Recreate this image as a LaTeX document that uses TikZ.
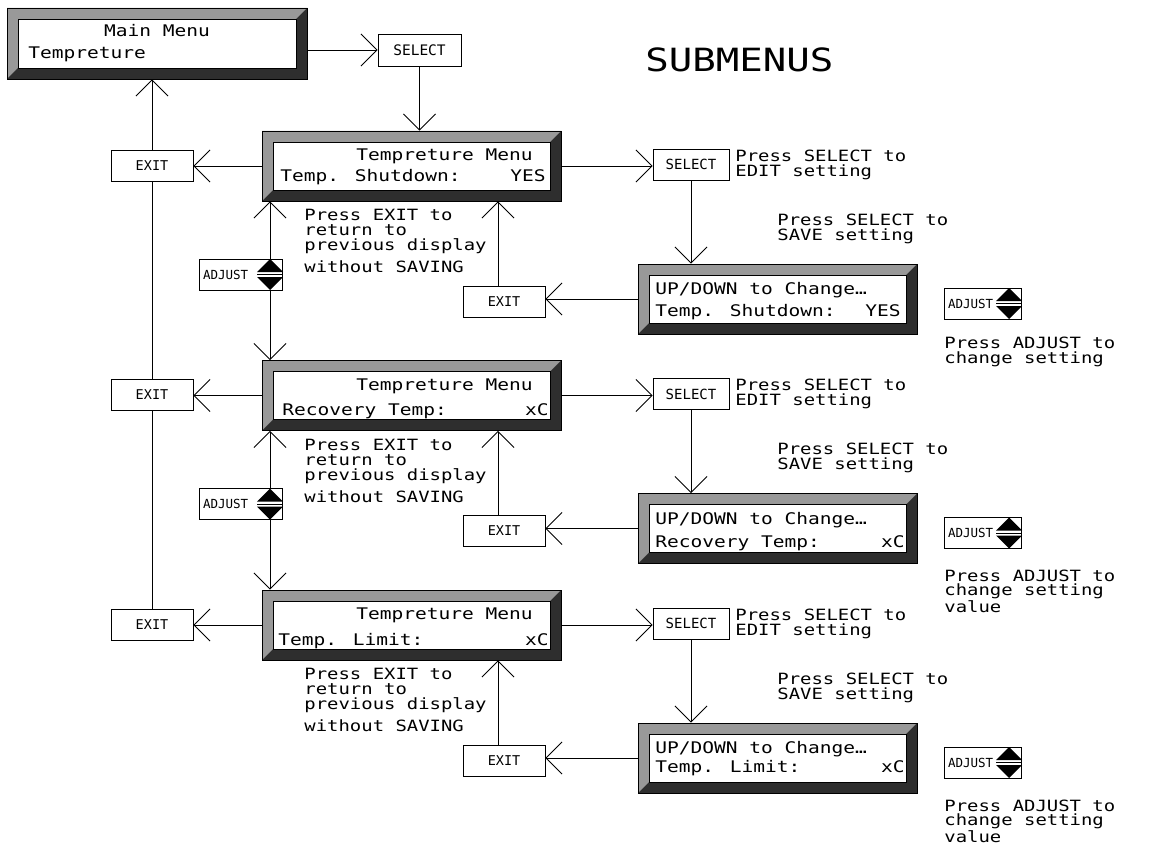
\documentclass[tikz,border=0pt]{standalone}
\usepackage{fontspec}
\newfontfamily\cad[FakeStretch=1.22]{DejaVu Sans Mono}
\newfontfamily\btnf{DejaVu Sans Mono}
\usetikzlibrary{arrows.meta}
\definecolor{bevlight}{gray}{0.6}
\definecolor{bevdark}{gray}{0.18}
\tikzset{
  arr/.style={-{Straight Barb[length=16pt,width=32pt]}},
  lcd/.style={draw, inner sep=0pt, path picture={
    \fill[bevlight] (path picture bounding box.north west) -- (path picture bounding box.north east)
      -- ([shift={(-11pt,-11pt)}]path picture bounding box.north east)
      -- ([shift={(11pt,-11pt)}]path picture bounding box.north west)
      -- ([shift={(11pt,11pt)}]path picture bounding box.south west)
      -- (path picture bounding box.south west) -- cycle;
    \fill[bevdark] (path picture bounding box.north east) -- (path picture bounding box.south east)
      -- (path picture bounding box.south west)
      -- ([shift={(11pt,11pt)}]path picture bounding box.south west)
      -- ([shift={(-11pt,11pt)}]path picture bounding box.south east)
      -- ([shift={(-11pt,-11pt)}]path picture bounding box.north east) -- cycle;
    \draw[fill=white] ([shift={(11pt,-11pt)}]path picture bounding box.north west)
      rectangle ([shift={(-11pt,11pt)}]path picture bounding box.south east);
  }},
  btn/.style={draw, inner sep=0pt, font=\btnf\fontsize{13.5}{14}\selectfont},
  adjbox/.style={btn, minimum height=31pt, inner xsep=4pt, text width=#1, align=left,
    font=\btnf\fontsize{12.5}{14}\selectfont},
  adjsym/.style={minimum width=26pt, minimum height=31pt, inner sep=0pt, path picture={
    \fill (path picture bounding box.north) -- ([yshift=-13pt]path picture bounding box.north west)
      -- ([yshift=-13pt]path picture bounding box.north east) -- cycle;
    \fill (path picture bounding box.south) -- ([yshift=13pt]path picture bounding box.south west)
      -- ([yshift=13pt]path picture bounding box.south east) -- cycle;
    \draw (path picture bounding box.west) -- (path picture bounding box.east);
  }},
  boxtxt/.style={inner sep=0pt, font=\cad\fontsize{16}{18}\selectfont},
  notetxt/.style={inner sep=0pt, align=left, anchor=base west, font=\cad\fontsize{15.5}{14.8}\selectfont},
  titletxt/.style={inner sep=0pt, anchor=base west, font=\cad\fontsize{32}{34}\selectfont},
}
\begin{document}
\begin{tikzpicture}[x=1pt, y=-1pt, line width=0.9pt]
\path[use as bounding box, fill=white] (0,0) rectangle (1167,848);

% main menu
\node[lcd, minimum width=300pt, minimum height=71pt] (main) at (157,43.5) {};
\node[boxtxt, anchor=base] (mainA) at (157,37) {Main Menu};
\node[boxtxt, anchor=base west] (mainB) at (28,59) {Tempreture};
\node[btn, minimum width=83pt, minimum height=32pt, font=\btnf\fontsize{14.5}{15}\selectfont] (sel0) at (419.5,50) {SELECT};
\node[titletxt] (subm) at (645,72) {SUBMENUS};

\draw[arr] (main.east |- sel0.west) -- (sel0.west);

\foreach \r in {1,2,3}{
  \pgfmathsetmacro\dy{229.5*(\r-1)}
  \node[lcd, minimum width=299pt, minimum height=70pt] (t\r) at (411.5,166+\dy) {};
  \node[boxtxt, anchor=base east] (ta\r) at (533,160.5+\dy) {Tempreture Menu};
  \node[btn, minimum width=82pt, minimum height=31pt] (x\r) at (152,165.5+\dy) {EXIT};
  \node[btn, minimum width=82pt, minimum height=31pt] (xl\r) at (504,301.5+\dy) {EXIT};
  \node[btn, minimum width=76pt, minimum height=31pt, font=\btnf\fontsize{14}{15}\selectfont] (s\r) at (691,164.5+\dy) {SELECT};
  \node[lcd, minimum width=279pt, minimum height=70pt] (e\r) at (777.5,299+\dy) {};
  \node[boxtxt, anchor=base west] (ea\r) at (655,294.5+\dy) {UP/DOWN to Change…};
  \node[adjbox=69pt] (ar\r) at (982.5,303.5+\dy) {ADJUST};
  \node[adjsym, anchor=east] (ars\r) at ([xshift=1pt]ar\r.east) {};
  \node[notetxt] (ne\r) at (304,272.5+\dy) {Press EXIT to\\return to\\previous display\\[6pt]without SAVING};
  \node[notetxt] (ns\r) at (735,176+\dy) {Press SELECT to\\EDIT setting};
  \node[notetxt] (nv\r) at (777,240+\dy) {Press SELECT to\\SAVE setting};
  \draw[arr] (t\r.west) -- (t\r.west -| x\r.east);
  \draw[arr] (t\r.east) -- (t\r.east -| s\r.west);
  \draw[arr] (s\r.south) -- (s\r.south |- e\r.north);
  \draw[arr] (e\r.west) -- (e\r.west -| xl\r.east);
  \draw[arr] ([xshift=-6pt]xl\r.north) -- ([xshift=-6pt]xl\r.north |- t\r.south);
}

% second lines of the displays
\node[boxtxt, anchor=base west] (tb1) at (280,182) {Temp. Shutdown:};
\node[boxtxt, anchor=base east] (tc1) at (546,182) {YES};
\node[boxtxt, anchor=base west] (tb2) at (282,415) {Recovery Temp:};
\node[boxtxt, anchor=base east] (tc2) at (549,415) {xC};
\node[boxtxt, anchor=base west] (tb3) at (278,645) {Temp. Limit:};
\node[boxtxt, anchor=base east] (tc3) at (549,645) {xC};
\node[boxtxt, anchor=base west] (eb1) at (655,316) {Temp. Shutdown:};
\node[boxtxt, anchor=base east] (ec1) at (901,316) {YES};
\node[boxtxt, anchor=base west] (eb2) at (655,547) {Recovery Temp:};
\node[boxtxt, anchor=base east] (ec2) at (905,547) {xC};
\node[boxtxt, anchor=base west] (eb3) at (655,772) {Temp. Limit:};
\node[boxtxt, anchor=base east] (ec3) at (905,772) {xC};

% adjust notes
\node[notetxt] (na1) at (944,363) {Press ADJUST to\\change setting};
\node[notetxt] (na2) at (944,612) {Press ADJUST to\\change setting\\value};
\node[notetxt] (na3) at (944,842) {Press ADJUST to\\change setting\\value};

% left adjust buttons
\node[adjbox=75pt] (al1) at (240.5,274.5) {ADJUST};
\node[adjsym, anchor=east] (als1) at ([xshift=1pt]al1.east) {};
\node[adjbox=75pt] (al2) at (240.5,504) {ADJUST};
\node[adjsym, anchor=east] (als2) at ([xshift=1pt]al2.east) {};

\draw[arr] (als1.north) -- (als1.north |- t1.south);
\draw[arr] (als1.south) -- (als1.south |- t2.north);
\draw[arr] (als2.north) -- (als2.north |- t2.south);
\draw[arr] (als2.south) -- (als2.south |- t3.north);

% left column
\draw[arr] (x1.north) -- (x1.north |- main.south);
\draw (x2.north) -- (x1.south);
\draw (x3.north) -- (x2.south);
\draw[arr] (sel0.south) -- (sel0.south |- t1.north);
\end{tikzpicture}
\end{document}
